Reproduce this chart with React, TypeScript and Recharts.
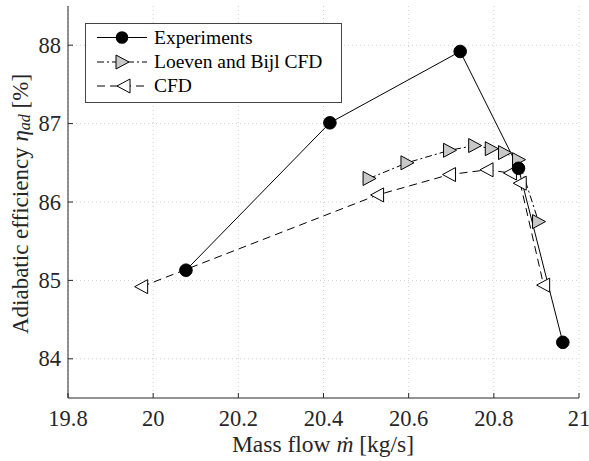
import React from "react";
import { LineChart, Line, XAxis, YAxis, CartesianGrid } from "recharts";

const expFlow = [20.077, 20.415, 20.721, 20.858, 20.962];
const expEff = [85.13, 87.01, 87.92, 86.43, 84.21];

const lbFlow = [20.507, 20.596, 20.696, 20.755, 20.794, 20.825, 20.858, 20.905];
const lbEff = [86.3, 86.5, 86.66, 86.72, 86.68, 86.63, 86.54, 85.75];

const cfdFlow = [19.973, 20.527, 20.696, 20.784, 20.839, 20.862, 20.917];
const cfdEff = [84.92, 86.09, 86.35, 86.41, 86.37, 86.24, 84.94];

const xTicks = [19.8, 20, 20.2, 20.4, 20.6, 20.8, 21];
const yTicks = [84, 85, 86, 87, 88];

const expData = expFlow.map((x, i) => ({ x, y: expEff[i] }));
const lbData = lbFlow.map((x, i) => ({ x, y: lbEff[i] }));
const cfdData = cfdFlow.map((x, i) => ({ x, y: cfdEff[i] }));

const FONT = "'Liberation Serif', 'DejaVu Serif', serif";
const INK = "#262626";

const Circle = (p: any) =>
  p.cx == null ? null : <circle cx={p.cx} cy={p.cy} r={6.3} fill="#000" stroke="#000" />;
const TriRight = (p: any) =>
  p.cx == null ? null : (
    <polygon
      points={`${p.cx - 6},${p.cy - 7} ${p.cx - 6},${p.cy + 7} ${p.cx + 7},${p.cy}`}
      fill="#c8c8c8"
      stroke="#000"
      strokeWidth={1}
    />
  );
const TriLeft = (p: any) =>
  p.cx == null ? null : (
    <polygon
      points={`${p.cx + 6},${p.cy - 7} ${p.cx + 6},${p.cy + 7} ${p.cx - 7},${p.cy}`}
      fill="#fff"
      stroke="#000"
      strokeWidth={1}
    />
  );

const BottomTick = (p: any) => (
  <g>
    <line x1={p.x} y1={p.y} x2={p.x} y2={p.y - 5} stroke={INK} />
    <text x={p.x} y={p.y + 28} textAnchor="middle" fontSize={22.5} fontFamily={FONT} fill={INK}>
      {String(p.payload.value)}
    </text>
  </g>
);
const TopTick = (p: any) => <line x1={p.x} y1={p.y} x2={p.x} y2={p.y + 5} stroke={INK} />;
const LeftTick = (p: any) => (
  <g>
    <line x1={p.x} y1={p.y} x2={p.x + 5} y2={p.y} stroke={INK} />
    <text x={p.x - 7} y={p.y + 7.5} textAnchor="end" fontSize={22.5} fontFamily={FONT} fill={INK}>
      {String(p.payload.value)}
    </text>
  </g>
);
const RightTick = (p: any) => <line x1={p.x} y1={p.y} x2={p.x - 5} y2={p.y} stroke={INK} />;

const LegendBox = () => (
  <svg
    width={258}
    height={81}
    style={{ position: "absolute", left: 85, top: 23 }}
  >
    <rect x={0.5} y={0.5} width={256} height={79} fill="#fff" stroke="#444" />
    <g>
      <line x1={12} y1={14.5} x2={62} y2={14.5} stroke="#000" />
      <circle cx={37} cy={14.5} r={6.3} fill="#000" />
      <text x={69} y={20.5} fontSize={19.5} fontFamily={FONT} fill="#000">Experiments</text>
    </g>
    <g>
      <line x1={12} y1={39} x2={62} y2={39} stroke="#000" strokeDasharray="7 3 2 3" />
      <polygon points={`31,32 31,46 44,39`} fill="#c8c8c8" stroke="#000" />
      <text x={69} y={45} fontSize={19.5} fontFamily={FONT} fill="#000">Loeven and Bijl CFD</text>
    </g>
    <g>
      <line x1={12} y1={63} x2={62} y2={63} stroke="#000" strokeDasharray="8 5" />
      <polygon points={`45,56 45,70 32,63`} fill="#fff" stroke="#000" />
      <text x={69} y={69} fontSize={19.5} fontFamily={FONT} fill="#000">CFD</text>
    </g>
  </svg>
);

const YLabel = () => (
  <text
    transform="translate(20,204) rotate(-90)"
    textAnchor="middle"
    dominantBaseline="central"
    fontSize={23}
    fontFamily={FONT}
    fill={INK}
  >
    Adiabatic efficiency{" "}
    <tspan fontStyle="italic">η</tspan>
    <tspan fontStyle="italic" fontSize={16} dy={4}>ad</tspan>
    <tspan dy={-4}> [%]</tspan>
  </text>
);

const XLabel = () => (
  <text x={323} y={452} textAnchor="middle" fontSize={23.5} fontFamily={FONT} fill={INK}>
    Mass flow <tspan fontStyle="italic">ṁ</tspan> [kg/s]
  </text>
);

export default function App() {
  return (
    <div style={{ position: "absolute", left: 0, top: 0, width: 589, height: 461, background: "#fff" }}>
      <LineChart width={589} height={461} margin={{ top: 6, right: 10, bottom: 0, left: 0 }}>
        <CartesianGrid
          stroke="#d0d0d0"
          strokeDasharray="1 3"
          horizontalValues={yTicks}
          verticalValues={xTicks}
        />
        <XAxis
          type="number"
          dataKey="x"
          domain={[19.8, 21]}
          ticks={xTicks}
          height={63}
          tickSize={0}
          tickMargin={0}
          tickLine={false}
          tick={BottomTick}
          axisLine={{ stroke: INK }}
          allowDataOverflow
        />
        <XAxis
          xAxisId="top"
          orientation="top"
          type="number"
          dataKey="x"
          domain={[19.8, 21]}
          ticks={xTicks}
          height={0}
          tickSize={0}
          tickMargin={0}
          tickLine={false}
          tick={TopTick}
          axisLine={{ stroke: INK }}
          allowDataOverflow
        />
        <YAxis
          type="number"
          dataKey="y"
          domain={[83.5, 88.5]}
          ticks={yTicks}
          width={68}
          tickSize={0}
          tickMargin={0}
          tickLine={false}
          tick={LeftTick}
          axisLine={{ stroke: INK }}
          allowDataOverflow
        />
        <YAxis
          yAxisId="right"
          orientation="right"
          type="number"
          dataKey="y"
          domain={[83.5, 88.5]}
          ticks={yTicks}
          width={0}
          tickSize={0}
          tickMargin={0}
          tickLine={false}
          tick={RightTick}
          axisLine={{ stroke: INK }}
          allowDataOverflow
        />
        <Line
          data={cfdData}
          dataKey="y"
          stroke="#000"
          strokeWidth={1}
          strokeDasharray="8 5"
          dot={TriLeft}
          activeDot={false}
          isAnimationActive={false}
          legendType="none"
        />
        <Line
          data={lbData}
          dataKey="y"
          stroke="#000"
          strokeWidth={1}
          strokeDasharray="7 3 2 3"
          dot={TriRight}
          activeDot={false}
          isAnimationActive={false}
        />
        <Line
          data={expData}
          dataKey="y"
          stroke="#000"
          strokeWidth={1}
          dot={Circle}
          activeDot={false}
          isAnimationActive={false}
        />
        <YLabel />
        <XLabel />
      </LineChart>
      <LegendBox />
    </div>
  );
}
